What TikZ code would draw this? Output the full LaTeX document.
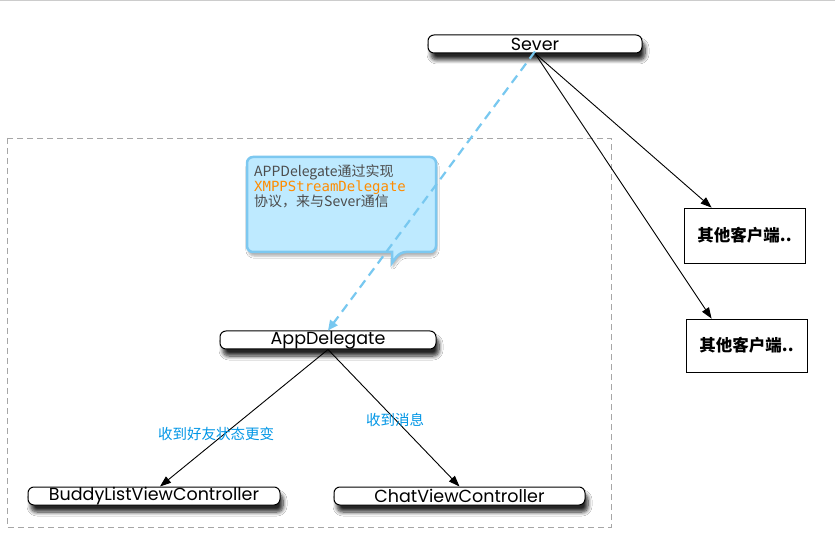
\documentclass[tikz,border=0pt]{standalone}
\usepackage{fontspec}
\setmainfont{Liberation Sans}
\newfontfamily\pillfont{Poppins}
\newfontfamily\cjk{Noto Sans CJK SC}
\newfontfamily\monof{DejaVu Sans Mono}
\usetikzlibrary{shadows,shadows.blur,arrows.meta}
\definecolor{calloutfill}{RGB}{190,234,255}
\definecolor{calloutdraw}{RGB}{125,200,240}
\definecolor{dasharrow}{RGB}{120,200,240}
\definecolor{labelblue}{RGB}{0,150,230}
\definecolor{codeorange}{RGB}{255,140,0}
\tikzset{
  pill/.style={draw=black, line width=1pt, rounded corners=6pt, fill=white, inner sep=0pt,
    blur shadow={shadow xshift=3pt, shadow yshift=-7pt, shadow blur steps=8, shadow blur radius=4pt, shadow opacity=85},
    font=\pillfont\fontsize{17.5}{17.5}\selectfont},
  client/.style={draw=black, line width=0.8pt, fill=white, inner sep=0pt,
    font=\cjk\bfseries\fontsize{16.5}{16.5}\selectfont},
  conn/.style={-{Triangle[length=11pt,width=8pt]}, line width=0.9pt, black},
  lbl/.style={text=labelblue, font=\cjk\fontsize{14.5}{14.5}\selectfont}
}
\begin{document}
\begin{tikzpicture}[x=1pt,y=-1pt]
\useasboundingbox (0,0) rectangle (835,534);
\fill[white] (0,0) rectangle (835,534);
\draw[gray!40, line width=0.6pt] (0,0.5) -- (835,0.5);
% group frame
\draw[gray!70, dash pattern=on 6pt off 4pt, line width=0.8pt] (7,138) rectangle (611,527);
% nodes
\node[pill, minimum width=214pt, minimum height=18pt] (sever) at (535,44) {Sever};
\node[pill, minimum width=216pt, minimum height=18pt] (app) at (328,340) {AppDelegate};
\node[pill, minimum width=252pt, minimum height=18pt] (buddy) at (154,496) {BuddyListViewController};
\node[pill, minimum width=251pt, minimum height=18pt] (chat) at (459.5,496) {ChatViewController};
\node[client, minimum width=121pt, minimum height=55pt] (c1) at (744.5,235.5) {其他客户端..};
\node[client, minimum width=121pt, minimum height=53pt] (c2) at (746.5,345.5) {其他客户端..};
% callout
\coordinate (tailtip) at (392,263);
\filldraw[fill=calloutfill, draw=calloutdraw, line width=2.5pt, rounded corners=6pt,
  blur shadow={shadow xshift=1pt, shadow yshift=-4pt, shadow blur steps=5, shadow opacity=30}]
  (247,157) -- (436,157) -- (436,252) -- (400,252) [sharp corners] -- (tailtip) -- (392,252) [rounded corners=6pt] -- (247,252) -- cycle;
\node[anchor=north west, align=left, inner sep=0pt, text=black!70, font=\cjk\fontsize{14}{15}\selectfont] (note) at (254,164)
  {APPDelegate通过实现\\{\monof\color{codeorange}XMPPStreamDelegate}\\协议，来与Sever通信};
% connectors
\draw[dasharrow, line width=2.2pt, dash pattern=on 9pt off 6pt, -{Triangle[length=10pt,width=9pt]}] ([yshift=2pt]sever.south) -- (app.north);
\draw[conn] (sever.south) -- ([xshift=28pt]c1.north west);
\draw[conn] (sever.south) -- ([xshift=26pt]c2.north west);
\draw[conn] (app.south) -- ([xshift=6pt]buddy.north);
\draw[conn] (app.south) -- (chat.north);
% labels
\node[lbl] (l1) at (216,434) {收到好友状态更变};
\node[lbl] (l2) at (395,420) {收到消息};
\end{tikzpicture}
\end{document}
